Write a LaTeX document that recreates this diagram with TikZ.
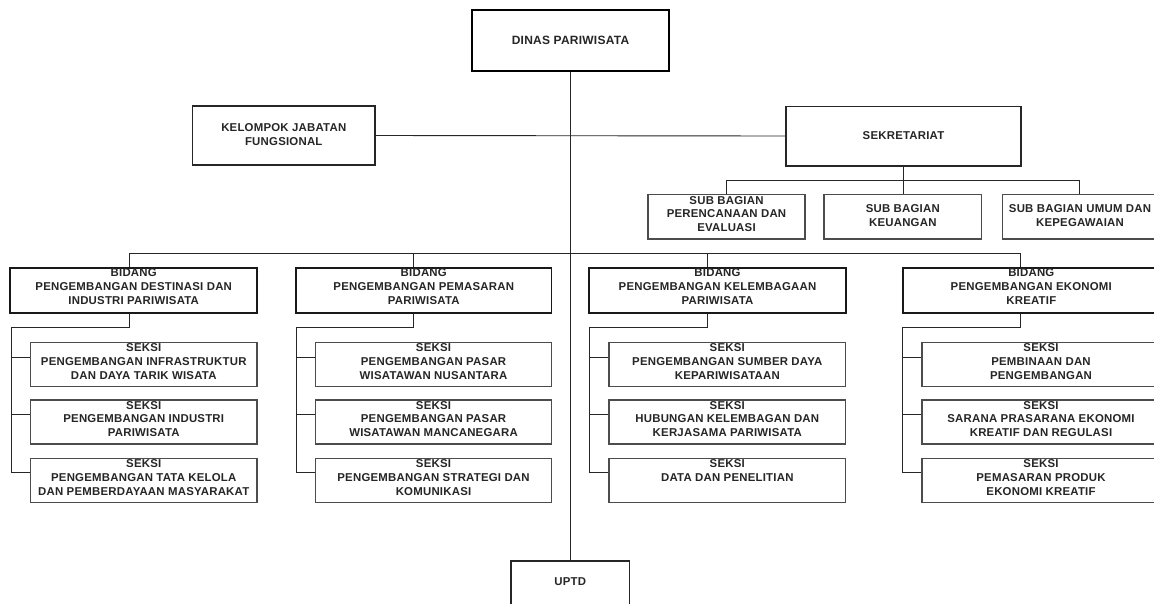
\documentclass[tikz,border=0pt]{standalone}
\usepackage{fontspec}
\setmainfont{Liberation Sans}[LetterSpace=2.0]
\begin{document}
\begin{tikzpicture}[x=1pt,y=-1pt,
  conn/.style={draw=black!85, line width=0.9pt},
  basebox/.style={rectangle, inner sep=0pt, fill=white},
  headbox/.style={basebox, draw=black, line width=2.2pt},
  bidbox/.style={basebox, draw=black!90, line width=1.9pt},
  midbox/.style={basebox, draw=black!85, line width=1.5pt},
  subbox/.style={basebox, draw=black!70, line width=1.2pt},
  sekbox/.style={basebox, draw=black!70, line width=1.1pt},
  txt/.style={inner sep=0pt, align=center, text=black!85,
    font=\fontsize{11.4}{13.8}\selectfont\bfseries},
  toptxt/.style={txt, anchor=north}
]
\useasboundingbox (0,0) rectangle (1154,603);
\clip (0,0) rectangle (1154,603);
\fill[white] (0,0) rectangle (1154,603);

% ---------- connectors (drawn first, boxes cover them) ----------
\coordinate (mtop) at (570.5,71);
\coordinate (mbot) at (570.5,561);
\draw[conn] (mtop) -- (mbot);

% ---------- top level ----------
\node[headbox, minimum width=197pt, minimum height=61pt] (dinas) at (570.5,40.5) {};
\node[txt, font=\fontsize{12}{14}\selectfont\bfseries] (dinasT) at (dinas.center) {DINAS PARIWISATA};

\node[midbox, minimum width=182.5pt, minimum height=59pt] (kjf) at (283.75,135.5) {};
\node[txt] (kjfT) at (283.75,134.5) {KELOMPOK JABATAN\\FUNGSIONAL};

\node[midbox, minimum width=235pt, minimum height=59.5pt] (sekr) at (903.5,136) {};
\node[txt] (sekrT) at (903.5,135.5) {SEKRETARIAT};

\draw[conn] (kjf.east) -- (sekr.west);

% ---------- sub bagian ----------
\node[subbox, minimum width=157pt, minimum height=44.5pt] (sb1) at (726.5,216.75) {};
\node[subbox, minimum width=157.6pt, minimum height=44.5pt] (sb2) at (902.8,216.75) {};
\node[subbox, minimum width=157pt, minimum height=44.5pt] (sb3) at (1081,216.75) {};
\node[toptxt] (sb1T) at ([yshift=-2pt]sb1.north) {SUB BAGIAN\\PERENCANAAN DAN\\EVALUASI};
\node[txt] (sb2T) at (902.8,215.5) {SUB BAGIAN\\KEUANGAN};
\node[txt] (sb3T) at (1080,215.5) {SUB BAGIAN UMUM DAN\\KEPEGAWAIAN};

\coordinate (sbR) at (1079,180);
\draw[conn] (sekr.south) -- (sekr.south |- sb2.north);
\draw[conn] (sb1.north) |- (sbR) -- (sbR |- sb3.north);

% ---------- bidang ----------
\node[bidbox, minimum width=246.6pt, minimum height=44.4pt] (bd1) at (133.7,290.5) {};
\node[bidbox, minimum width=255.5pt, minimum height=44.4pt] (bd2) at (423.75,290.5) {};
\node[bidbox, minimum width=256.2pt, minimum height=44.4pt] (bd3) at (717.5,290.5) {};
\node[bidbox, minimum width=257.4pt, minimum height=44.4pt] (bd4) at (1031.3,290.5) {};

\node[toptxt] (bd1T) at ([yshift=-1pt]bd1.north) {BIDANG\\PENGEMBANGAN DESTINASI DAN\\INDUSTRI PARIWISATA};
\node[toptxt] (bd2T) at ([yshift=-1pt]bd2.north) {BIDANG\\PENGEMBANGAN PEMASARAN\\PARIWISATA};
\node[toptxt] (bd3T) at ([yshift=-1pt]bd3.north) {BIDANG\\PENGEMBANGAN KELEMBAGAAN\\PARIWISATA};
\node[toptxt] (bd4T) at ([yshift=-1pt]bd4.north) {BIDANG\\PENGEMBANGAN EKONOMI\\KREATIF};

\coordinate (t1) at (129,253);
\coordinate (t2) at (413.6,253);
\coordinate (t3) at (707.8,253);
\coordinate (t4) at (1020.7,253);
\draw[conn] (t1 |- bd1.north) -- (t1) -- (t4) -- (t4 |- bd4.north);
\draw[conn] (t2) -- (t2 |- bd2.north);
\draw[conn] (t3) -- (t3 |- bd3.north);

% ---------- seksi ----------
% column 1
\node[sekbox, minimum width=226.5pt, minimum height=44pt] (s11) at (143.75,364.5) {};
\node[sekbox, minimum width=226.5pt, minimum height=44pt] (s12) at (143.75,422) {};
\node[sekbox, minimum width=226.5pt, minimum height=44pt] (s13) at (143.75,480.4) {};
% column 2
\node[sekbox, minimum width=235.9pt, minimum height=44pt] (s21) at (433.55,364.5) {};
\node[sekbox, minimum width=235.9pt, minimum height=44pt] (s22) at (433.55,422) {};
\node[sekbox, minimum width=235.9pt, minimum height=44pt] (s23) at (433.55,480.4) {};
% column 3
\node[sekbox, minimum width=236.6pt, minimum height=44pt] (s31) at (727.3,364.5) {};
\node[sekbox, minimum width=236.6pt, minimum height=44pt] (s32) at (727.3,422) {};
\node[sekbox, minimum width=236.6pt, minimum height=44pt] (s33) at (727.3,480.4) {};
% column 4
\node[sekbox, minimum width=238pt, minimum height=44pt] (s41) at (1041,364.5) {};
\node[sekbox, minimum width=238pt, minimum height=44pt] (s42) at (1041,422) {};
\node[sekbox, minimum width=238pt, minimum height=44pt] (s43) at (1041,480.4) {};

\node[toptxt] (s11T) at ([yshift=-1.5pt]s11.north) {SEKSI\\PENGEMBANGAN INFRASTRUKTUR\\DAN DAYA TARIK WISATA};
\node[toptxt] (s12T) at ([yshift=-1.5pt]s12.north) {SEKSI\\PENGEMBANGAN INDUSTRI\\PARIWISATA};
\node[toptxt] (s13T) at ([yshift=-1.5pt]s13.north) {SEKSI\\PENGEMBANGAN TATA KELOLA\\DAN PEMBERDAYAAN MASYARAKAT};
\node[toptxt] (s21T) at ([yshift=-1.5pt]s21.north) {SEKSI\\PENGEMBANGAN PASAR\\WISATAWAN NUSANTARA};
\node[toptxt] (s22T) at ([yshift=-1.5pt]s22.north) {SEKSI\\PENGEMBANGAN PASAR\\WISATAWAN MANCANEGARA};
\node[toptxt] (s23T) at ([yshift=-1.5pt]s23.north) {SEKSI\\PENGEMBANGAN STRATEGI DAN\\KOMUNIKASI};
\node[toptxt] (s31T) at ([yshift=-1.5pt]s31.north) {SEKSI\\PENGEMBANGAN SUMBER DAYA\\KEPARIWISATAAN};
\node[toptxt] (s32T) at ([yshift=-1.5pt]s32.north) {SEKSI\\HUBUNGAN KELEMBAGAN DAN\\KERJASAMA PARIWISATA};
\node[toptxt] (s33T) at ([yshift=-1.5pt]s33.north) {SEKSI\\DATA DAN PENELITIAN};
\node[toptxt] (s41T) at ([yshift=-1.5pt]s41.north) {SEKSI\\PEMBINAAN DAN\\PENGEMBANGAN};
\node[toptxt] (s42T) at ([yshift=-1.5pt]s42.north) {SEKSI\\SARANA PRASARANA EKONOMI\\KREATIF DAN REGULASI};
\node[toptxt] (s43T) at ([yshift=-1.5pt]s43.north) {SEKSI\\PEMASARAN PRODUK\\EKONOMI KREATIF};

% spines below bidang
\coordinate (k1) at (129,327.3);   \coordinate (e1) at (11,472.8);
\coordinate (k2) at (413.6,327.3); \coordinate (e2) at (296,472.8);
\coordinate (k3) at (707.8,327.3); \coordinate (e3) at (589.4,472.8);
\coordinate (k4) at (1020.7,327.3);\coordinate (e4) at (902.6,472.8);

\draw[conn] (k1 |- bd1.south) -- (k1) -| (e1) -- (e1 -| s13.west);
\draw[conn] (k2 |- bd2.south) -- (k2) -| (e2) -- (e2 -| s23.west);
\draw[conn] (k3 |- bd3.south) -- (k3) -| (e3) -- (e3 -| s33.west);
\draw[conn] (k4 |- bd4.south) -- (k4) -| (e4) -- (e4 -| s43.west);

\coordinate (j11) at (11,357);    \coordinate (j12) at (11,414.5);
\coordinate (j21) at (296,357);   \coordinate (j22) at (296,414.5);
\coordinate (j31) at (589.4,357); \coordinate (j32) at (589.4,414.5);
\coordinate (j41) at (902.6,357); \coordinate (j42) at (902.6,414.5);
\draw[conn] (j11) -- (j11 -| s11.west);
\draw[conn] (j12) -- (j12 -| s12.west);
\draw[conn] (j21) -- (j21 -| s21.west);
\draw[conn] (j22) -- (j22 -| s22.west);
\draw[conn] (j31) -- (j31 -| s31.west);
\draw[conn] (j32) -- (j32 -| s32.west);
\draw[conn] (j41) -- (j41 -| s41.west);
\draw[conn] (j42) -- (j42 -| s42.west);

% ---------- UPTD ----------
\node[midbox, minimum width=118.3pt, minimum height=56pt] (uptd) at (570.2,589) {};
\node[txt] (uptdT) at (570.2,581.7) {UPTD};
\end{tikzpicture}
\end{document}
